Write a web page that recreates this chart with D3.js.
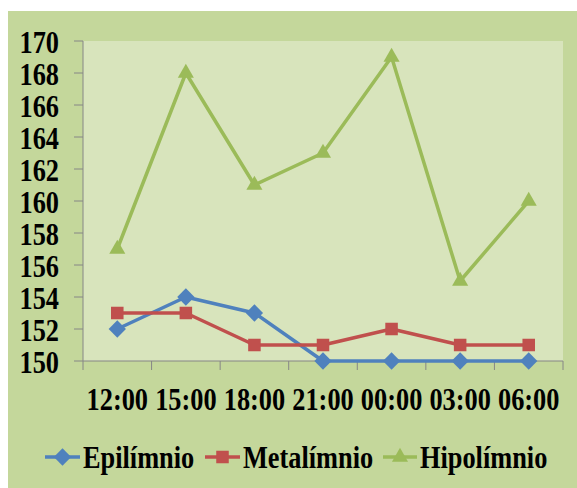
<!DOCTYPE html>
<html>
<head>
<meta charset="utf-8">
<script src="https://cdn.jsdelivr.net/npm/d3@7"></script>
<style>
  html, body { margin: 0; padding: 0; background: #ffffff; }
  svg { display: block; }
  text { font-family: "Liberation Serif", "Times New Roman", serif; font-weight: bold; fill: #000; }
</style>
</head>
<body>
<svg id="chart" width="577" height="488"></svg>
<script>
// Hourly readings over one day at three depths of the water column
const categories = ["12:00", "15:00", "18:00", "21:00", "00:00", "03:00", "06:00"];
const epilimnio = [152, 154, 153, 150, 150, 150, 150];
const metalimnio = [153, 153, 151, 151, 152, 151, 151];
const hipolimnio = [157, 168, 161, 163, 169, 155, 160];
const yTicks = [150, 152, 154, 156, 158, 160, 162, 164, 166, 168, 170];
const seriesNames = ["Epilímnio", "Metalímnio", "Hipolímnio"];

const series = [
  { name: seriesNames[0], values: epilimnio, color: "#4f81bd", marker: d3.symbolDiamond2, size: 190 },
  { name: seriesNames[1], values: metalimnio, color: "#c0504d", marker: d3.symbolSquare2, size: 200 },
  { name: seriesNames[2], values: hipolimnio, color: "#9bbb59", marker: d3.symbolTriangle2, size: 185 }
];

const svg = d3.select("#chart");
const W = 577, H = 488;
const plot = { left: 83, top: 41, right: 563, bottom: 361 };
const fontSize = 31, squeeze = 0.85;

// chart background
svg.append("rect").attr("x", 8).attr("y", 11).attr("width", W - 8).attr("height", H - 11)
  .attr("fill", "#c4d79b");
svg.append("rect").attr("x", plot.left).attr("y", plot.top)
  .attr("width", plot.right - plot.left).attr("height", plot.bottom - plot.top)
  .attr("fill", "#d8e4bc");

const x = d3.scaleBand().domain(categories).range([plot.left, plot.right]);
const y = d3.scaleLinear().domain([150, 170]).range([plot.bottom, plot.top]);
const cx = d => x(d) + x.bandwidth() / 2;

// narrow serif text
function label(g, tx, ty, str, anchor) {
  g.append("text")
    .attr("transform", `translate(${tx},${ty}) scale(${squeeze},1)`)
    .attr("text-anchor", anchor)
    .attr("dominant-baseline", "central")
    .attr("font-size", fontSize)
    .text(str);
}

// y axis
const axisColor = "#868686";
const yAxis = svg.append("g");
yAxis.append("line").attr("x1", plot.left).attr("x2", plot.left)
  .attr("y1", plot.top).attr("y2", plot.bottom).attr("stroke", axisColor).attr("stroke-width", 1);
yTicks.forEach(t => {
  yAxis.append("line").attr("x1", plot.left - 9).attr("x2", plot.left)
    .attr("y1", y(t)).attr("y2", y(t)).attr("stroke", axisColor);
  label(yAxis, 59, y(t) + 1, String(t), "end");
});

// x axis
const xAxis = svg.append("g");
xAxis.append("line").attr("x1", plot.left).attr("x2", plot.right)
  .attr("y1", plot.bottom).attr("y2", plot.bottom).attr("stroke", axisColor);
const bounds = categories.map(c => x(c)).concat([plot.right]);
bounds.forEach(b => {
  xAxis.append("line").attr("x1", b).attr("x2", b)
    .attr("y1", plot.bottom).attr("y2", plot.bottom + 9).attr("stroke", axisColor);
});
categories.forEach(c => label(xAxis, cx(c), 399, c, "middle"));

// series lines and markers
const line = d3.line().x((d, i) => cx(categories[i])).y(d => y(d));
series.forEach(s => {
  const g = svg.append("g");
  g.append("path").attr("d", line(s.values)).attr("fill", "none")
    .attr("stroke", s.color).attr("stroke-width", 3.5).attr("stroke-linejoin", "round");
  g.selectAll("path.m").data(s.values).enter().append("path")
    .attr("class", "m")
    .attr("d", d3.symbol().type(s.marker).size(s.size))
    .attr("transform", (d, i) => `translate(${cx(categories[i])},${y(d)})`)
    .attr("fill", s.color);
});

// legend
const legendY = 457;
const legendItems = [
  { x0: 45, x1: 80, tx: 83 },
  { x0: 205, x1: 240, tx: 243 },
  { x0: 383, x1: 417, tx: 420 }
];
const legend = svg.append("g");
series.forEach((s, i) => {
  const it = legendItems[i];
  legend.append("line").attr("x1", it.x0).attr("x2", it.x1)
    .attr("y1", legendY).attr("y2", legendY).attr("stroke", s.color).attr("stroke-width", 3.5);
  legend.append("path").attr("d", d3.symbol().type(s.marker).size(s.size)())
    .attr("transform", `translate(${(it.x0 + it.x1) / 2},${legendY})`).attr("fill", s.color);
  label(legend, it.tx, legendY, s.name, "start");
});
</script>
</body>
</html>
